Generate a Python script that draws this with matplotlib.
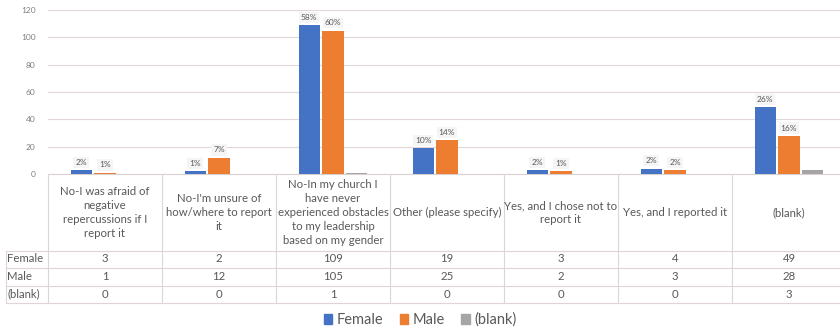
import matplotlib
matplotlib.use("Agg")
import matplotlib.pyplot as plt
import numpy as np
from matplotlib.patches import Rectangle

plt.rcParams['font.family'] = ['Lato', 'DejaVu Sans']

categories = [
    "No-I was afraid of\nnegative\nrepercussions if I\nreport it",
    "No-I'm unsure of\nhow/where to report\nit",
    "No-In my church I\nhave never\nexperienced obstacles\nto my leadership\nbased on my gender",
    "Other (please specify)",
    "Yes, and I chose not to\nreport it",
    "Yes, and I reported it",
    "(blank)",
]
series_names = ["Female", "Male", "(blank)"]
female = [3, 2, 109, 19, 3, 4, 49]
male = [1, 12, 105, 25, 2, 3, 28]
blank = [0, 0, 1, 0, 0, 0, 3]
female_pct = ["2%", "1%", "58%", "10%", "2%", "2%", "26%"]
male_pct = ["1%", "7%", "60%", "14%", "1%", "2%", "16%"]
y_ticks = [0, 20, 40, 60, 80, 100, 120]

colors = ["#4472C4", "#ED7D31", "#A5A5A5"]
grid_c = "#e3d6d6"
text_c = "#595959"

W, H = 840, 332
fig = plt.figure(figsize=(W / 100, H / 100), dpi=100)

def fx(px):
    return px / W

def fy(py):
    return 1 - py / H

left_px, right_px = 48, 846
top_px, zero_px = 10, 174
ax = fig.add_axes([fx(left_px), fy(zero_px), fx(right_px - left_px), (zero_px - top_px) / H])

n = len(categories)
x = np.arange(n)
offs = [-0.21, 0.0, 0.21]
bw = 0.185
all_series = [female, male, blank]
for vals, off, c in zip(all_series, offs, colors):
    ax.bar(x + off, vals, width=bw, color=c, zorder=3)

for i in range(n):
    for vals, labs, off in [(female, female_pct, offs[0]), (male, male_pct, offs[1])]:
        ax.annotate(labs[i], (x[i] + off, vals[i]), xytext=(0, 3), textcoords="offset points",
                    ha="center", va="bottom", fontsize=6, color=text_c,
                    bbox=dict(boxstyle="square,pad=0.25", fc="#f5f5f5", ec="none"), zorder=4)

ax.set_xlim(-0.5, n - 0.5)
ax.set_ylim(0, 120)
ax.set_yticks(y_ticks)
ax.set_yticklabels([str(t) for t in y_ticks], fontsize=6, color="#7f7f7f")
ax.tick_params(axis="y", length=0, pad=9)
ax.set_xticks([])
ax.grid(axis="y", color=grid_c, linewidth=0.8, zorder=0)
for s in ["left", "right", "top"]:
    ax.spines[s].set_visible(False)
ax.spines["bottom"].set_color("#d9d0d0")
ax.spines["bottom"].set_linewidth(0.8)

# Data table under the chart, sharing the category axis
tab_top, tab_bottom = 174, 303
tax = fig.add_axes([fx(left_px), fy(tab_bottom), fx(right_px - left_px), (tab_bottom - tab_top) / H],
                   sharex=ax)
tax.set_ylim(tab_bottom, tab_top)
tax.axis("off")

line_c = "#e0d4d4"
row_lines = [250.5, 268, 286, 303]
label_x = -0.5 - (left_px - 6) / 114.0
for yl in row_lines:
    tax.plot([label_x, n - 0.5], [yl, yl], color=line_c, lw=0.8, clip_on=False)
for b in range(n + 1):
    tax.plot([b - 0.5, b - 0.5], [tab_top, tab_bottom], color=line_c, lw=0.8, clip_on=False)
tax.plot([label_x, label_x], [row_lines[0], tab_bottom], color=line_c, lw=0.8, clip_on=False)

head_center = 212.5
for i, cat in enumerate(categories):
    tax.text(x[i], head_center, cat, ha="center", va="center", fontsize=8.2, color=text_c,
             linespacing=1.33, clip_on=False)

row_centers = [259, 276.5, 294]
for name, vals, yc in zip(series_names, all_series, row_centers):
    tax.text(label_x + 0.01, yc, name, ha="left", va="center", fontsize=8.2, color=text_c, clip_on=False)
    for i in range(n):
        tax.text(x[i], yc, str(vals[i]), ha="center", va="center", fontsize=8.2, color=text_c,
                 clip_on=False)

handles = [Rectangle((0, 0), 1, 1, color=c) for c in colors]
fig.legend(handles, series_names, loc="center", bbox_to_anchor=(fx(420), fy(320)), ncol=3,
           frameon=False, fontsize=10.5, handlelength=0.6, handleheight=0.6, handletextpad=0.3,
           columnspacing=1.1, labelcolor=text_c)

fig.savefig("out.png", dpi=100, facecolor="white")
